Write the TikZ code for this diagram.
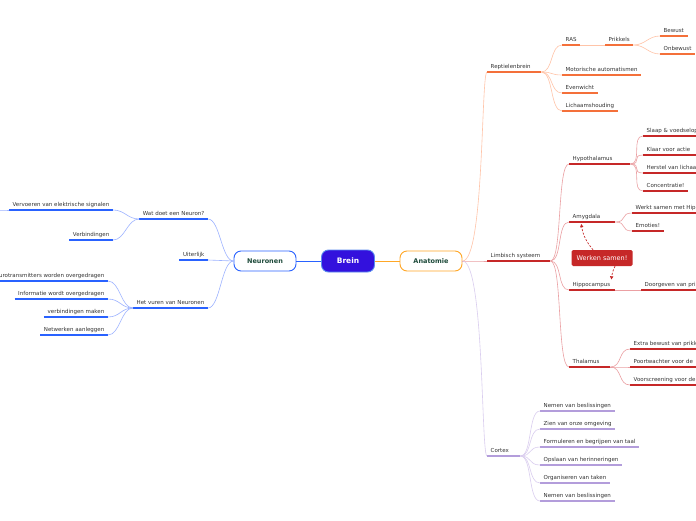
\documentclass[tikz,border=0pt]{standalone}
\usepackage{fontspec}
\setmainfont{DejaVu Sans}
\usetikzlibrary{arrows.meta}

\definecolor{txtgray}{HTML}{333333}
\definecolor{hubtext}{HTML}{1D4A3A}
\definecolor{breinfill}{HTML}{3311DD}
\definecolor{breinring}{HTML}{5B8DEF}
\definecolor{nblue}{HTML}{2962FF}
\definecolor{nbluel}{HTML}{9DB3FF}
\definecolor{aorange}{HTML}{FFA726}
\definecolor{rorange}{HTML}{F4703A}
\definecolor{rorangel}{HTML}{FFC4A8}
\definecolor{lred}{HTML}{C62828}
\definecolor{lredl}{HTML}{EBA0A3}
\definecolor{cpurple}{HTML}{B39DDB}
\definecolor{cpurplel}{HTML}{DACDEF}

\begin{document}
\begin{tikzpicture}[
    x=1pt, y=-1pt,
    lbl/.style={
        font=\fontsize{5.5}{6.5}\selectfont,
        text=txtgray,
        inner xsep=3.5pt,
        inner ysep=2.4pt,
        text height=4pt,
        text depth=1.3pt
    },
    ul/.style={
        lbl,
        append after command={(\tikzlastnode.south west) edge[draw=#1, line width=1.3pt] (\tikzlastnode.south east)}
    },
    lleaf/.style={ul=nblue, anchor=south east},
    rleaf/.style={ul=#1, anchor=south west},
    wide/.style={text width=#1, align=left},
    hub/.style={
        rectangle,
        rounded corners=7pt,
        minimum width=62pt,
        minimum height=20pt,
        fill=white,
        line width=0.9pt,
        text=hubtext,
        font=\fontsize{6.5}{8}\selectfont\bfseries
    },
    brein/.style={
        hub,
        minimum width=53pt,
        minimum height=22pt,
        fill=breinfill,
        draw=breinring,
        text=white,
        font=\fontsize{7.5}{9}\selectfont\bfseries
    },
    samenbox/.style={
        rectangle,
        rounded corners=1.5pt,
        fill=lred,
        text=white,
        minimum width=61pt,
        minimum height=16pt,
        inner sep=2pt,
        font=\fontsize{6.5}{8}\selectfont
    },
    rlink/.style={draw=#1, line width=0.6pt, to path={.. controls +(12,0) and +(-12,0) .. (\tikztotarget)}},
    llink/.style={draw=#1, line width=0.6pt, to path={.. controls +(-12,0) and +(12,0) .. (\tikztotarget)}},
    mlink/.style={draw=#1, line width=0.6pt, to path={.. controls +(22,0) and +(-6,0) .. (\tikztotarget)}},
    samenpijl/.style={
        draw=lred,
        dashed,
        dash pattern=on 2pt off 1.6pt,
        line width=0.7pt,
        -{Triangle[length=3.2pt,width=3.2pt]}
    }
]

\fill[white] (0,0) rectangle (696,520);
\useasboundingbox (0,0) rectangle (696,520);
\clip (0,0) rectangle (696,520);

% Centre
\node[brein] (brein) at (348,261) {Brein};
\node[hub, draw=nblue] (neuronen) at (265,261) {Neuronen};
\node[hub, draw=aorange] (anatomie) at (431,261) {Anatomie};

\draw[nblue, line width=0.8pt] (brein.west) -- (neuronen.east);
\draw[aorange, line width=0.8pt] (brein.east) -- (anatomie.west);

% Neuronen
\node[lleaf] (watdoet) at (208,219) {Wat doet een Neuron?};
\node[lleaf] (vervoeren) at (113,210) {Vervoeren van elektrische signalen};
\node[lleaf] (verbindingen) at (113,240) {Verbindingen};
\node[lleaf] (uiterlijk) at (208,260) {Uiterlijk};
\node[lleaf] (vuren) at (208,308) {Het vuren van Neuronen};
\node[lleaf] (overdracht) at (108,281) {Neurotransmitters worden overgedragen};
\node[lleaf] (informatie) at (108,299) {Informatie wordt overgedragen};
\node[lleaf] (verbmaken) at (108,317) {verbindingen maken};
\node[lleaf] (netwerken) at (108,335) {Netwerken aanleggen};
\coordinate (verder) at (-6,210);

\draw[llink=nbluel] (neuronen.west) to (watdoet.south east);
\draw[llink=nbluel] (neuronen.west) to (uiterlijk.south east);
\draw[llink=nbluel] (neuronen.west) to (vuren.south east);
\draw[llink=nbluel] (watdoet.south west) to (vervoeren.south east);
\draw[llink=nbluel] (watdoet.south west) to (verbindingen.south east);
\draw[llink=nbluel] (vervoeren.south west) to (verder);
\foreach \leaf in {overdracht,informatie,verbmaken,netwerken}
    \draw[llink=nbluel] (vuren.south west) to (\leaf.south east);

% Reptielenbrein
\node[rleaf=rorange, wide=47pt] (reptiel) at (487,72) {Reptielenbrein};
\node[rleaf=rorange] (ras) at (562,45) {RAS};
\node[rleaf=rorange] (prikkels) at (605,45) {Prikkels};
\node[rleaf=rorange] (bewust) at (660,36) {Bewust};
\node[rleaf=rorange] (onbewust) at (660,54) {Onbewust};
\node[rleaf=rorange] (motoriek) at (562,75) {Motorische automatismen};
\node[rleaf=rorange] (evenwicht) at (562,93) {Evenwicht};
\node[rleaf=rorange] (houding) at (562,111) {Lichaamshouding};

\draw[mlink=rorangel] (anatomie.east) to (reptiel.south west);
\foreach \leaf in {ras,motoriek,evenwicht,houding}
    \draw[rlink=rorangel] (reptiel.south east) to (\leaf.south west);
\draw[rlink=rorangel] (ras.south east) to (prikkels.south west);
\draw[rlink=rorangel] (prikkels.south east) to (bewust.south west);
\draw[rlink=rorangel] (prikkels.south east) to (onbewust.south west);

% Limbisch systeem
\node[rleaf=lred, wide=56pt] (limbisch) at (487,261) {Limbisch systeem};
\node[rleaf=lred, wide=54pt] (hypo) at (569,164) {Hypothalamus};
\node[rleaf=lred] (slaap) at (643,136) {Slaap \& voedselopname};
\node[rleaf=lred, wide=60pt] (actie) at (643,155) {Klaar voor actie};
\node[rleaf=lred] (herstel) at (643,173) {Herstel van lichaam};
\node[rleaf=lred] (concentratie) at (643,191) {Concentratie!};
\node[rleaf=lred, wide=39pt] (amygdala) at (569,222) {Amygdala};
\node[rleaf=lred] (hipp) at (632,213) {Werkt samen met Hippocampus};
\node[rleaf=lred] (emoties) at (632,231) {Emoties!};
\node[rleaf=lred, wide=39pt] (hippo) at (569,290) {Hippocampus};
\node[rleaf=lred] (doorgeven) at (641,290) {Doorgeven van prikkels};
\node[rleaf=lred, wide=34pt] (thalamus) at (569,367) {Thalamus};
\node[rleaf=lred] (extra) at (630,349) {Extra bewust van prikkels};
\node[rleaf=lred, wide=80pt] (poort) at (630,367) {Poortwachter voor de};
\node[rleaf=lred, wide=80pt] (voorscreen) at (630,385) {Voorscreening voor de};
\node[samenbox] (samen) at (602,258) {Werken samen!};

\draw[mlink=lredl] (anatomie.east) to (limbisch.south west);
\foreach \leaf in {hypo,amygdala,hippo,thalamus}
    \draw[rlink=lredl] (limbisch.south east) to (\leaf.south west);
\foreach \leaf in {slaap,actie,herstel,concentratie}
    \draw[rlink=lredl] (hypo.south east) to (\leaf.south west);
\draw[rlink=lredl] (amygdala.south east) to (hipp.south west);
\draw[rlink=lredl] (amygdala.south east) to (emoties.south west);
\draw[rlink=lredl] (hippo.south east) to (doorgeven.south west);
\foreach \leaf in {extra,poort,voorscreen}
    \draw[rlink=lredl] (thalamus.south east) to (\leaf.south west);

% Werken samen arrows
\draw[samenpijl] ([xshift=-9pt]samen.north) to[bend left=15] ([shift={(-11pt,-2pt)}]amygdala.south);
\draw[samenpijl] ([xshift=13pt]samen.south) to[bend right=10] ([xshift=-4pt]hippo.north east);

% Cortex
\node[rleaf=cpurple, wide=26pt] (cortex) at (487,456) {Cortex};
\node[rleaf=cpurple] (besl1) at (540,411) {Nemen van beslissingen};
\node[rleaf=cpurple] (zien) at (540,429) {Zien van onze omgeving};
\node[rleaf=cpurple] (taal) at (540,447) {Formuleren en begrijpen van taal};
\node[rleaf=cpurple] (opslaan) at (540,465) {Opslaan van herinneringen};
\node[rleaf=cpurple] (taken) at (540,483) {Organiseren van taken};
\node[rleaf=cpurple] (besl2) at (540,501) {Nemen van beslissingen};

\draw[mlink=cpurplel] (anatomie.east) to (cortex.south west);
\foreach \leaf in {besl1,zien,taal,opslaan,taken,besl2}
    \draw[rlink=cpurplel] (cortex.south east) to (\leaf.south west);

\end{tikzpicture}
\end{document}
